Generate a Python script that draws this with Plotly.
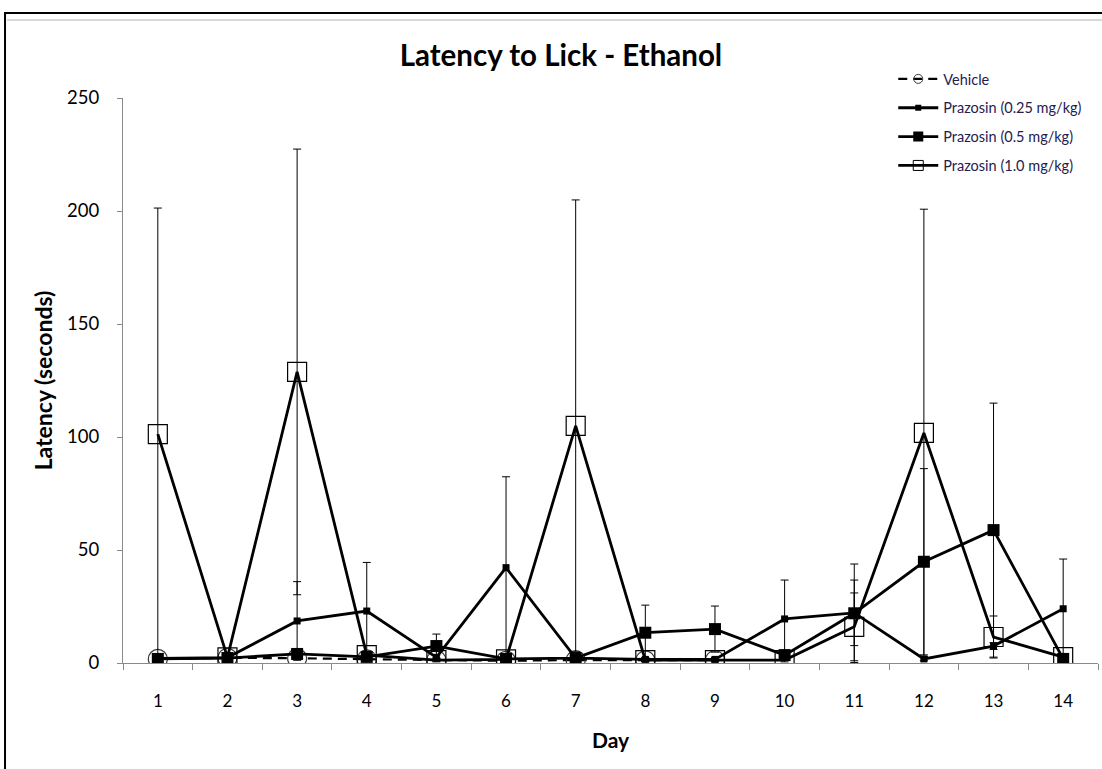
import plotly.graph_objects as go

# Days of testing (category axis)
days = [str(d) for d in range(1, 15)]

# Mean latency to first lick (seconds) per group
vehicle = [1.8, 2.3, 2.1, 1.6, 1.3, 1.0, 1.3, 1.2, 1.3]
vehicle_err = [0.5, 0.5, 0.5, 0.5, 0.5, 0.5, 0.5, 0.5, 0.5]

praz_025 = [2.0, 2.4, 18.6, 23.0, 2.5, 42.2, 2.2, 1.6, 1.6, 19.5, 22.2, 1.8, 7.5, 24.0]
praz_025_err = [0.8, 0.8, 17.4, 21.5, 1.0, 40.2, 1.0, 0.8, 0.8, 17.2, 14.5, 0.8, 1.5, 22.0]

praz_05 = [1.8, 2.2, 4.0, 2.7, 7.5, 1.8, 2.2, 13.4, 15.0, 3.5, 22.0, 44.8, 58.8, 1.8]
praz_05_err = [0.8, 0.8, 1.5, 1.0, 5.3, 0.8, 0.8, 12.2, 10.2, 1.5, 21.8, 41.2, 56.2, 0.8]

praz_10 = [101.3, 2.5, 128.8, 3.5, 1.3, 1.6, 104.9, 1.3, 1.3, 1.3, 16.0, 101.8, 11.5, 2.6]
praz_10_err = [100.0, 1.0, 98.6, 1.5, 0.8, 0.8, 100.0, 0.8, 0.8, 0.8, 15.0, 99.0, 9.3, 1.0]

y_ticks = [0, 50, 100, 150, 200, 250]

FONT = "Lato"
AXIS_GREY = "#8a8a8a"


def err(values):
    return dict(type="data", array=values, symmetric=True,
                color="black", thickness=1, width=4)


# Series styles: (name, line dash, line width, marker symbol, plot size, legend size, marker colour)
styles = [
    ("Vehicle", "9px,6px", 2.2, "circle-open", 19, 9, "#3a3a3a"),
    ("Prazosin (0.25 mg/kg)", "solid", 2.8, "square", 7, 6, "black"),
    ("Prazosin (0.5 mg/kg)", "solid", 2.8, "square", 12, 10, "black"),
    ("Prazosin (1.0 mg/kg)", "solid", 2.8, "square-open", 19, 10, "black"),
]
series = [
    (days[:len(vehicle)], vehicle, vehicle_err),
    (days, praz_025, praz_025_err),
    (days, praz_05, praz_05_err),
    (days, praz_10, praz_10_err),
]

fig = go.Figure()

for (name, dash, lw, sym, size, _, mcol), (xs, ys, es) in zip(styles, series):
    fig.add_trace(go.Scatter(
        x=xs, y=ys, name=name, mode="lines+markers", showlegend=False,
        line=dict(color="black", width=lw, dash=dash),
        marker=dict(symbol=sym, size=size, color=mcol,
                    line=dict(width=1.2, color=mcol) if "open" in sym else dict(width=0)),
        error_y=err(es),
    ))

# Legend entries with the smaller legend-sized symbols
for i, (name, dash, lw, sym, _, lsize, mcol) in enumerate(styles):
    fig.add_trace(go.Scatter(
        x=[None], y=[None], name=name, mode="lines+markers",
        legendgroup=f"g{i}",
        line=dict(color="black", width=lw, dash=dash),
        marker=dict(symbol=sym, size=lsize, color=mcol,
                    line=dict(width=1, color=mcol) if "open" in sym else dict(width=0)),
    ))

fig.update_layout(
    width=1102, height=769,
    margin=dict(l=123, r=4, t=98, b=106),
    paper_bgcolor="white", plot_bgcolor="white",
    font=dict(family=FONT, color="black"),
    title=dict(text="<b>Latency to Lick - Ethanol</b>", x=0.509, xanchor="center",
               y=0.928, yanchor="middle", font=dict(size=29.5, family=FONT)),
    showlegend=True,
    legend=dict(x=0.79, y=1.062, xanchor="left", yanchor="top",
                font=dict(size=14.5, color="#1f2050", family=FONT),
                bgcolor="rgba(0,0,0,0)", tracegroupgap=7,
                itemsizing="trace", itemwidth=40),
    xaxis=dict(
        type="category", categoryorder="array", categoryarray=days,
        range=[-0.5, 13.5],
        tickson="boundaries", ticks="outside", ticklen=6, tickcolor=AXIS_GREY,
        showline=True, linecolor=AXIS_GREY, linewidth=1, showgrid=False,
        zeroline=False, tickfont=dict(size=17, family=FONT),
        ticklabelstandoff=23,
        title=dict(text="<b>Day</b>", font=dict(size=21, family=FONT), standoff=22),
    ),
    yaxis=dict(
        range=[0, 250], tickvals=y_ticks, ticks="outside", ticklen=5,
        tickcolor=AXIS_GREY, showline=True, linecolor=AXIS_GREY, linewidth=1,
        showgrid=False, zeroline=False, tickfont=dict(size=18.5, family=FONT),
        ticklabelstandoff=14,
        title=dict(text="<b>Latency (seconds)</b>", font=dict(size=23, family=FONT),
                   standoff=8),
    ),
)

# Outer chart frame
fig.add_shape(type="rect", xref="paper", yref="paper",
              x0=-0.121, x1=1.2, y0=-0.4, y1=1.1504,
              line=dict(color="black", width=2), layer="below")
fig.add_shape(type="line", xref="paper", yref="paper",
              x0=-0.119, x1=1.2, y0=1.138, y1=1.138,
              line=dict(color="#b0b0b0", width=1), layer="below")

fig.write_html("out.html")
